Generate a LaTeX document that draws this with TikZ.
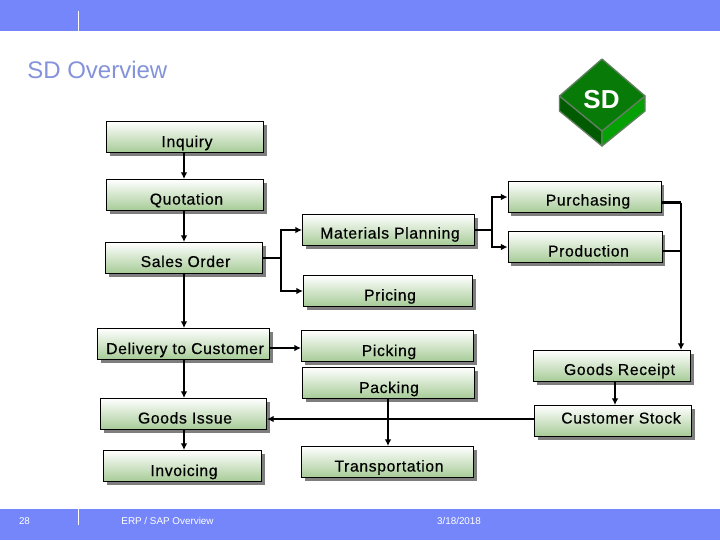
\documentclass[tikz,border=0pt]{standalone}
\usepackage{fontspec}
\setmainfont{Liberation Sans}
\newfontfamily\boxfont[FakeBold=0.5,LetterSpace=4]{Liberation Sans}
\usetikzlibrary{arrows.meta,shadows}
\definecolor{barblue}{HTML}{7586FA}
\definecolor{titleblue}{HTML}{8492DA}
\definecolor{boxgreen}{HTML}{A6CB96}
\definecolor{boxshadow}{HTML}{7E7E7E}
\definecolor{sdtop}{HTML}{087A08}
\definecolor{sdleft}{HTML}{005A00}
\definecolor{sdright}{HTML}{04A004}
\definecolor{sdedge}{HTML}{5F7F5F}

\begin{document}
\begin{tikzpicture}[x=0.75pt,y=-0.75pt,
	stepbox/.style={draw=black,line width=0.75pt,top color=white,bottom color=boxgreen,
		minimum height=23.25pt,inner sep=0pt,
		drop shadow={shadow xshift=2.25pt,shadow yshift=-2.25pt,fill=boxshadow,opacity=1}},
	steplabel/.style={anchor=base,inner sep=0pt,font=\boxfont\fontsize{11.8}{14}\selectfont},
	footlabel/.style={anchor=base,inner sep=0pt,text=white,font=\fontsize{7.4}{9}\selectfont},
	flow/.style={draw=black,line width=1.7pt,-{Latex[length=5pt,width=5pt]}},
	feed/.style={draw=black,line width=1.7pt},
	sdface/.style={draw=sdedge,line width=1pt,line join=round}]
	\useasboundingbox (0,0) rectangle (720,540);
	
	% Header and footer bars
	\fill[barblue] (0,0) rectangle (720,31);
	\fill[barblue] (0,509) rectangle (720,540);
	\draw[white,line width=0.75pt] (78.5,11) -- (78.5,31);
	\draw[white,line width=0.75pt] (78.5,509) -- (78.5,525);
	\node[footlabel] (pagenumber) at (24.5,524) {28};
	\node[footlabel] (footertitle) at (167.5,524) {ERP / SAP Overview};
	\node[footlabel] (footerdate) at (459,524) {3/18/2018};
	
	% Title
	\node[anchor=base west,inner sep=0pt,text=titleblue,font=\fontsize{18}{20}\selectfont] (title) at (27,78) {SD Overview};
	
	% SD block
	\draw[sdface,fill=sdleft] (559.5,96) -- (602,131) -- (602,146) -- (559.5,111) -- cycle;
	\draw[sdface,fill=sdright] (645,96) -- (602,131) -- (602,146) -- (645,111) -- cycle;
	\draw[sdface,fill=sdtop] (602,59) -- (645,96) -- (602,131) -- (559.5,96) -- cycle;
	\node[anchor=base,inner sep=0pt,text=white,font=\bfseries\fontsize{19.5}{22}\selectfont] (sdlabel) at (601.5,108) {SD};
	
	% Left column
	\node[stepbox,minimum width=117.75pt] (inquiry) at (185,137) {};
	\node[steplabel] (inquirytext) at (187,147) {Inquiry};
	\node[stepbox,minimum width=117.75pt] (quotation) at (185,195) {};
	\node[steplabel] (quotationtext) at (186.5,204.5) {Quotation};
	\node[stepbox,minimum width=117.75pt] (salesorder) at (184,258) {};
	\node[steplabel] (salesordertext) at (185.5,267) {Sales Order};
	\node[stepbox,minimum width=129pt] (delivery) at (183.5,344) {};
	\node[steplabel] (deliverytext) at (185,354) {Delivery to Customer};
	\node[stepbox,minimum width=124.5pt] (goodsissue) at (183.5,414) {};
	\node[steplabel] (goodsissuetext) at (185,423.5) {Goods Issue};
	\node[stepbox,minimum width=118.5pt] (invoicing) at (182.5,466) {};
	\node[steplabel] (invoicingtext) at (184,476) {Invoicing};
	
	% Middle column
	\node[stepbox,minimum width=129pt] (materials) at (388.5,230) {};
	\node[steplabel] (materialstext) at (390,238.5) {Materials Planning};
	\node[stepbox,minimum width=126.75pt] (pricing) at (388,291) {};
	\node[steplabel] (pricingtext) at (390,300.5) {Pricing};
	\node[stepbox,minimum width=129pt] (picking) at (387.5,346) {};
	\node[steplabel] (pickingtext) at (389,356) {Picking};
	\node[stepbox,minimum width=129pt] (packing) at (388.5,383) {};
	\node[steplabel] (packingtext) at (389,393) {Packing};
	\node[stepbox,minimum width=129pt] (transportation) at (387.5,462) {};
	\node[steplabel] (transportationtext) at (389,471.5) {Transportation};
	
	% Right column
	\node[stepbox,minimum width=115pt] (purchasing) at (584.75,197) {};
	\node[steplabel] (purchasingtext) at (588,205.5) {Purchasing};
	\node[stepbox,minimum width=115.75pt] (production) at (585.25,247) {};
	\node[steplabel] (productiontext) at (588.5,256.5) {Production};
	\node[stepbox,minimum width=118pt] (goodsreceipt) at (612.25,366) {};
	\node[steplabel] (goodsreceipttext) at (619.5,375) {Goods Receipt};
	\node[stepbox,minimum width=118pt] (customerstock) at (613.25,421) {};
	\node[steplabel] (customerstocktext) at (621,423.5) {Customer Stock};
	
	% Helper points for the connectors
	\coordinate (mainline) at (184,0);
	\coordinate (salesjoint) at (281,258);
	\coordinate (materialsjoint) at (492,230);
	\coordinate (riser) at (681,202.5);
	\coordinate (riserjoint) at (681,251);
	\coordinate (deliverylevel) at (0,348);
	\coordinate (stocklevel) at (0,419);
	\coordinate (packingline) at (388,0);
	\coordinate (receiptline) at (615,0);
	
	% Left column flow
	\draw[flow] (inquiry.south -| mainline) -- (quotation.north -| mainline);
	\draw[flow] (quotation.south -| mainline) -- (salesorder.north -| mainline);
	\draw[flow] (salesorder.south -| mainline) -- (delivery.north -| mainline);
	\draw[flow] (delivery.south -| mainline) -- (goodsissue.north -| mainline);
	\draw[flow] (goodsissue.south -| mainline) -- (invoicing.north -| mainline);
	
	% Branches
	\draw[feed] (salesorder.east) -- (salesjoint);
	\draw[flow] (salesjoint) |- (materials.west);
	\draw[flow] (salesjoint) |- (pricing.west);
	\draw[feed] (materials.east) -- (materialsjoint);
	\draw[flow] (materialsjoint) |- (purchasing.west);
	\draw[flow] (materialsjoint) |- (production.west);
	\draw[flow] (delivery.east |- deliverylevel) -- (picking.west |- deliverylevel);
	
	% Goods flow on the right
	\draw[feed] (purchasing.east |- riser) -- (riser);
	\draw[feed] (production.east |- riserjoint) -- (riserjoint);
	\draw[flow] (riser) -- (goodsreceipt.north -| riser);
	\draw[flow] (goodsreceipt.south -| receiptline) -- (customerstock.north -| receiptline);
	\draw[flow] (customerstock.west |- stocklevel) -- (goodsissue.east |- stocklevel);
	\draw[flow] (packing.south -| packingline) -- (transportation.north -| packingline);
\end{tikzpicture}
\end{document}
